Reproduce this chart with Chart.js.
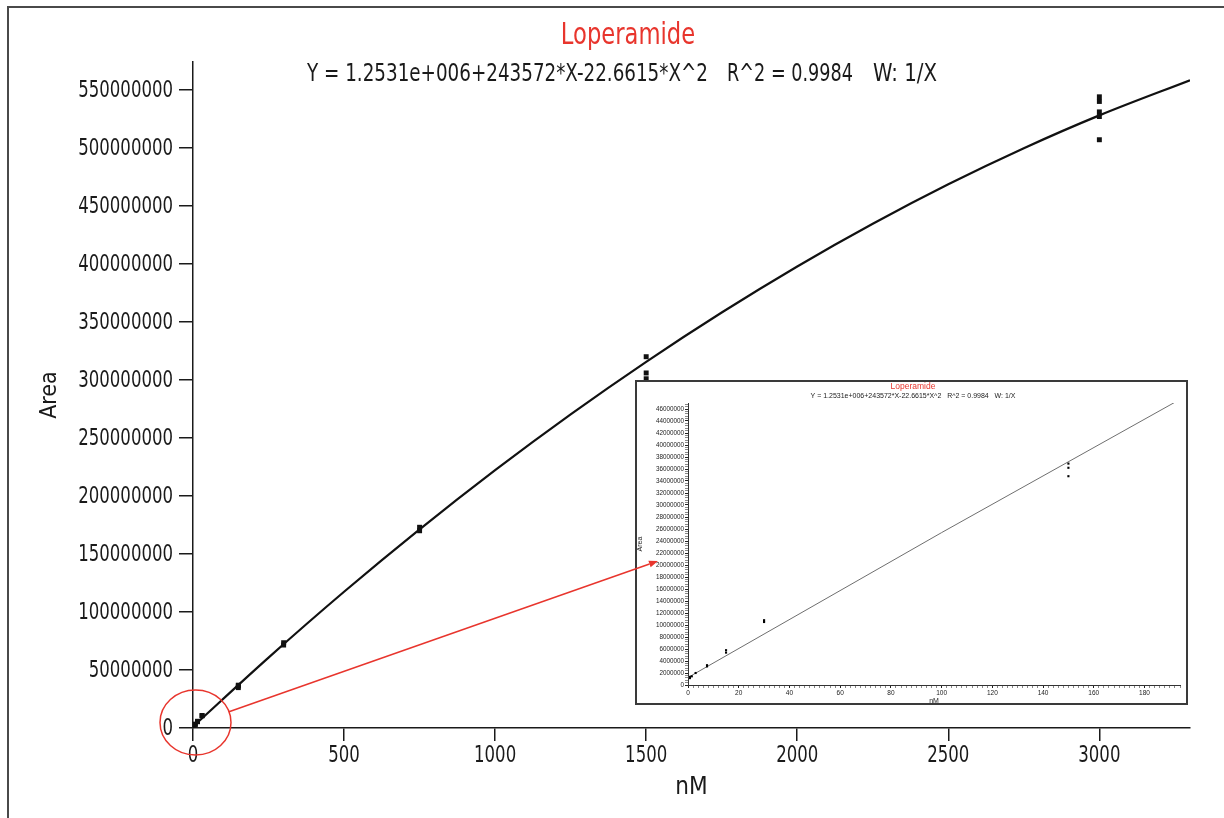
<!DOCTYPE html>
<html>
<head>
<meta charset="utf-8">
<script src="https://cdn.jsdelivr.net/npm/chart.js@4.4.1/dist/chart.umd.min.js"></script>
<style>
  html, body { margin: 0; padding: 0; background: #fff; }
  #main { display: block; }
  #insetBox { position: absolute; left: -3000px; top: 0; }
</style>
</head>
<body>
<canvas id="main" width="1224" height="818"></canvas>
<div id="insetBox"><canvas id="inset" width="553" height="325"></canvas></div>
<script>
// calibration standards (nM) and measured peak areas
const concentrations = [0.75, 0.75, 1.5, 3, 7.5, 7.5, 15, 15, 30, 30, 150, 150, 150, 300, 300, 750, 750, 1500, 1500, 1500, 3000, 3000, 3000, 3000, 3000];
const areas = [1.15e6, 1.35e6, 1.45e6, 2.0e6, 3.1e6, 3.3e6, 5.4e6, 5.8e6, 10.5e6, 10.8e6, 34.8e6, 36.2e6, 36.9e6, 71.5e6, 73.5e6, 170e6, 173e6, 301e6, 306e6, 320e6, 507e6, 527e6, 531e6, 540e6, 544e6];

// fitted curve
const fitX = [0, 250, 500, 750, 1000, 1250, 1500, 1750, 2000, 2250, 2500, 2750, 3000, 3300];
const fitY = [1.25e6, 60.7e6, 117.4e6, 171.2e6, 222.2e6, 270.3e6, 315.6e6, 358.1e6, 397.8e6, 434.6e6, 468.6e6, 499.7e6, 528.0e6, 558.3e6];
// zoomed low range of the same curve
const insetFitX = [0, 100, 194];
const insetFitY = [1.25e6, 25.4e6, 47.6e6];

// tick labels
const xTickValues = [0, 500, 1000, 1500, 2000, 2500, 3000];
const yTickValues = [0, 50e6, 100e6, 150e6, 200e6, 250e6, 300e6, 350e6, 400e6, 450e6, 500e6, 550e6];
const insetXLabels = [0, 20, 40, 60, 80, 100, 120, 140, 160, 180];
const insetYLabels = [0, 2e6, 4e6, 6e6, 8e6, 10e6, 12e6, 14e6, 16e6, 18e6, 20e6, 22e6, 24e6, 26e6, 28e6, 30e6, 32e6, 34e6, 36e6, 38e6, 40e6, 42e6, 44e6, 46e6];

const compound = 'Loperamide';
const equationParts = ['Y = 1.2531e+006+243572*X-22.6615*X^2', 'R^2 = 0.9984', 'W: 1/X'];

const NARROW = "'Liberation Sans Narrow', 'DejaVu Sans Condensed', sans-serif";
const ARIAL = "'Liberation Sans', Arial, sans-serif";
const RED = '#e8352d';
const INK = '#1a1a1a';

const points = concentrations.map((x, i) => ({ x, y: areas[i] }));

// minor ticks between labelled ones (inset axes)
function withMinors(labels, parts, maxVal) {
  const out = [];
  const step = (labels[1] - labels[0]) / parts;
  for (let v = 0; v <= maxVal + 1e-9; v += step) out.push(Math.round(v * 1000) / 1000);
  return out;
}
const insetXTicks = withMinors(insetXLabels, 10, 194);
const insetYTicks = withMinors(insetYLabels, 5, 47e6);

// text squeezed horizontally to mimic the condensed face of the original
function squeezed(ctx, text, x, y, squeeze) {
  ctx.fillText(text, x, y, ctx.measureText(text).width * squeeze);
}

// ---------- inset (low concentration zoom) ----------
const insetChart = new Chart(document.getElementById('inset'), {
  type: 'scatter',
  data: {
    datasets: [
      { data: points, pointStyle: 'rect', pointRadius: 1.5, backgroundColor: '#000', borderWidth: 0 },
      { type: 'line', data: insetFitX.map((x, i) => ({ x, y: insetFitY[i] })), borderColor: '#6f6f6f', borderWidth: 1, pointRadius: 0, fill: false }
    ]
  },
  options: {
    responsive: false, animation: false, devicePixelRatio: 1,
    layout: { padding: { top: 23, right: 8, left: 0, bottom: 0 } },
    plugins: { legend: { display: false }, tooltip: { enabled: false } },
    scales: {
      x: {
        type: 'linear', min: 0, max: 194,
        afterBuildTicks: s => { s.ticks = insetXTicks.map(v => ({ value: v })); },
        afterFit: s => { s.height = 20; },
        ticks: { autoSkip: false, maxRotation: 0, padding: 1, color: '#222',
                 font: { family: ARIAL, size: 6.5 }, callback: v => (insetXLabels.includes(v) ? String(v) : '') },
        grid: { display: true, drawOnChartArea: false, tickLength: 3,
                tickColor: c => (c.tick && insetXLabels.includes(c.tick.value) ? '#222' : '#888') },
        border: { color: '#333', width: 1 },
        title: { display: true, text: 'nM', color: '#222', font: { family: ARIAL, size: 7 }, padding: 0 }
      },
      y: {
        min: 0, max: 47e6,
        afterBuildTicks: s => { s.ticks = insetYTicks.map(v => ({ value: v })); },
        afterFit: s => { s.width = 53; },
        ticks: { autoSkip: false, padding: 1, color: '#222',
                 font: { family: ARIAL, size: 6.3 }, callback: v => (insetYLabels.includes(v) ? String(v) : '') },
        grid: { display: true, drawOnChartArea: false, tickLength: 3,
                tickColor: c => (c.tick && insetYLabels.includes(c.tick.value) ? '#222' : '#888') },
        border: { color: '#333', width: 1 },
        title: { display: true, text: 'Area', color: '#222', font: { family: ARIAL, size: 7 }, padding: { top: 1 } }
      }
    }
  },
  plugins: [{
    id: 'insetDecor',
    beforeDraw(chart) {
      const ctx = chart.ctx;
      ctx.save();
      ctx.fillStyle = '#fff';
      ctx.fillRect(0, 0, chart.width, chart.height);
      ctx.restore();
    },
    afterDraw(chart) {
      const ctx = chart.ctx;
      ctx.save();
      ctx.textAlign = 'center';
      ctx.textBaseline = 'middle';
      ctx.fillStyle = RED;
      ctx.font = `8.5px ${ARIAL}`;
      ctx.fillText(compound, 278, 7);
      ctx.fillStyle = '#222';
      ctx.font = `7px ${ARIAL}`;
      ctx.fillText(equationParts.join('   '), 278, 16);
      ctx.strokeStyle = '#3a3a3a';
      ctx.lineWidth = 2;
      ctx.strokeRect(1, 1, chart.width - 2, chart.height - 2);
      ctx.restore();
    }
  }]
});

// ---------- main calibration chart ----------
const mainChart = new Chart(document.getElementById('main'), {
  type: 'scatter',
  data: {
    datasets: [
      { data: points, pointStyle: 'rect', pointRadius: 3.5, backgroundColor: '#111', borderWidth: 0 },
      { type: 'line', data: fitX.map((x, i) => ({ x, y: fitY[i] })), borderColor: '#111', borderWidth: 2.2,
        pointRadius: 0, cubicInterpolationMode: 'monotone', fill: false }
    ]
  },
  options: {
    responsive: false, animation: false, devicePixelRatio: 1,
    layout: { padding: { top: 62, right: 34, left: 0, bottom: 0 } },
    plugins: { legend: { display: false }, tooltip: { enabled: false } },
    scales: {
      x: {
        type: 'linear', min: 0, max: 3300,
        afterBuildTicks: s => { s.ticks = xTickValues.map(v => ({ value: v })); },
        afterFit: s => { s.height = 90; },
        ticks: { display: false },
        grid: { display: true, drawOnChartArea: false, tickLength: 13, color: INK, lineWidth: 1.5 },
        border: { color: INK, width: 1.5 },
        title: { display: true, text: 'nM', color: INK, font: { family: NARROW, size: 24 }, padding: { bottom: 16 } }
      },
      y: {
        min: 0, max: 574e6,
        afterBuildTicks: s => { s.ticks = yTickValues.map(v => ({ value: v })); },
        afterFit: s => { s.width = 193; },
        ticks: { display: false },
        grid: { display: true, drawOnChartArea: false, tickLength: 14, color: INK, lineWidth: 1.5 },
        border: { color: INK, width: 1.5 },
        title: { display: true, text: 'Area', color: INK, font: { family: NARROW, size: 23 }, padding: { top: 36 } }
      }
    }
  },
  plugins: [{
    id: 'mainDecor',
    beforeDraw(chart) {
      const ctx = chart.ctx;
      ctx.save();
      ctx.fillStyle = '#fff';
      ctx.fillRect(0, 0, chart.width, chart.height);
      // cropped frame: only left and top edges are visible
      ctx.strokeStyle = '#4a4a4a';
      ctx.lineWidth = 2;
      ctx.beginPath();
      ctx.moveTo(8, chart.height);
      ctx.lineTo(8, 7);
      ctx.lineTo(chart.width, 7);
      ctx.stroke();
      ctx.restore();
    },
    afterDraw(chart) {
      const ctx = chart.ctx;
      const xs = chart.scales.x, ys = chart.scales.y;
      ctx.save();
      ctx.fillStyle = INK;
      ctx.font = `23px ${NARROW}`;
      // tick labels
      ctx.textAlign = 'right';
      ctx.textBaseline = 'middle';
      yTickValues.forEach(v => squeezed(ctx, String(v), 173, ys.getPixelForValue(v) + 1, 0.8));
      ctx.textAlign = 'center';
      xTickValues.forEach(v => squeezed(ctx, String(v), xs.getPixelForValue(v), 756, 0.8));

      // titles
      ctx.fillStyle = RED;
      ctx.font = `30px ${NARROW}`;
      squeezed(ctx, compound, 628, 36, 0.84);
      ctx.fillStyle = INK;
      ctx.font = `25px ${NARROW}`;
      ctx.textAlign = 'left';
      ctx.fillText(equationParts[0], 307, 74, 401);
      ctx.fillText(equationParts[1], 727, 74, 126);
      ctx.fillText(equationParts[2], 873, 74, 64);

      // zoomed inset
      const ix = 635, iy = 380;
      ctx.drawImage(insetChart.canvas, ix, iy);

      // red ellipse round the origin and arrow to the inset
      const cx = xs.getPixelForValue(0) + 2.5, cy = ys.getPixelForValue(0) - 5.5;
      const rx = 35.5, ry = 32.5;
      ctx.strokeStyle = RED;
      ctx.fillStyle = RED;
      ctx.lineWidth = 1.5;
      ctx.beginPath();
      ctx.ellipse(cx, cy, rx, ry, 0, 0, Math.PI * 2);
      ctx.stroke();
      const tx = ix + 23, ty = iy + 181;
      const ang = Math.atan2(ty - cy, tx - cx);
      const sx = cx + rx * Math.cos(ang), sy = cy + ry * Math.sin(ang);
      const head = 9, hw = 3.5;
      const bx = tx - head * Math.cos(ang), by = ty - head * Math.sin(ang);
      ctx.beginPath();
      ctx.moveTo(sx, sy);
      ctx.lineTo(bx, by);
      ctx.stroke();
      ctx.beginPath();
      ctx.moveTo(tx, ty);
      ctx.lineTo(bx + hw * Math.sin(ang), by - hw * Math.cos(ang));
      ctx.lineTo(bx - hw * Math.sin(ang), by + hw * Math.cos(ang));
      ctx.closePath();
      ctx.fill();
      ctx.restore();
    }
  }]
});
</script>
</body>
</html>
